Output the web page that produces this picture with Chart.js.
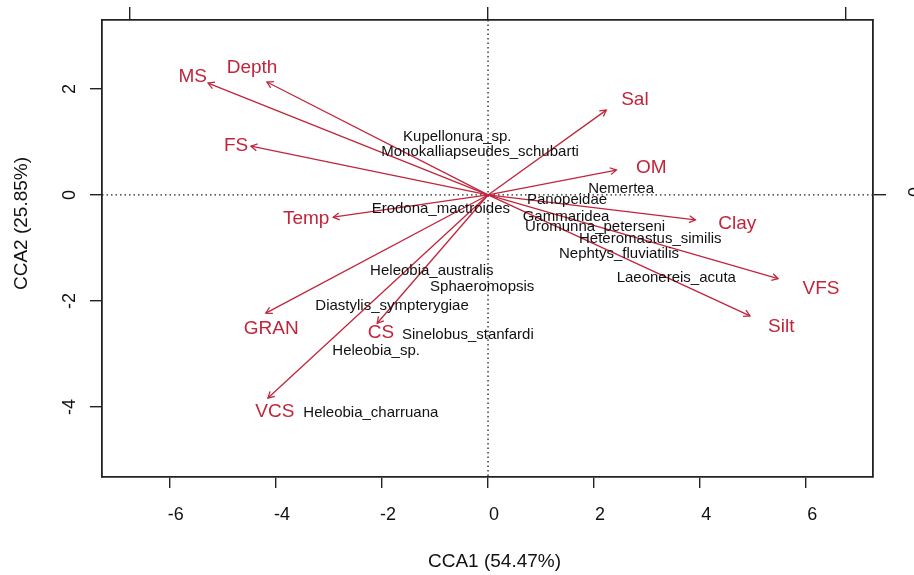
<!DOCTYPE html>
<html>
<head>
<meta charset="utf-8">
<script src="https://cdn.jsdelivr.net/npm/chart.js@4.4.0/dist/chart.umd.min.js"></script>
<style>
html, body { margin: 0; padding: 0; background: #fff; }
</style>
</head>
<body>
<canvas id="cca" width="914" height="575"></canvas>
<script>
// CCA biplot - environmental arrows + species scores

var envNames = ['MS', 'Depth', 'FS', 'Temp', 'GRAN', 'CS', 'VCS', 'Sal', 'OM', 'Clay', 'VFS', 'Silt'];
var envX = [-5.28, -4.17, -4.47, -2.92, -4.19, -2.09, -4.15, 2.23, 2.42, 3.91, 5.47, 4.94];
var envY = [2.11, 2.13, 0.92, -0.42, -2.23, -2.42, -3.83, 1.60, 0.47, -0.47, -1.58, -2.28];
// where the labels of the arrows sit
var envLabX = [-5.57, -4.45, -4.75, -3.43, -4.09, -2.02, -4.02, 2.77, 3.08, 4.70, 6.28, 5.53];
var envLabY = [2.23, 2.40, 0.92, -0.45, -2.53, -2.60, -4.09, 1.79, 0.51, -0.55, -1.77, -2.49];

var spNames = ['Kupellonura_sp.', 'Monokalliapseudes_schubarti', 'Erodona_mactroides', 'Heleobia_australis',
  'Sphaeromopsis', 'Diastylis_sympterygiae', 'Sinelobus_stanfardi', 'Heleobia_sp.', 'Heleobia_charruana',
  'Nemertea', 'Panopeidae', 'Gammaridea', 'Uromunna_peterseni', 'Heteromastus_similis',
  'Nephtys_fluviatilis', 'Laeonereis_acuta'];
var spX = [-0.58, -0.15, -0.89, -1.06, -0.11, -1.81, -0.38, -2.11, -2.21, 2.51, 1.49, 1.47, 2.02, 3.06, 2.47, 3.55];
var spY = [1.09, 0.81, -0.26, -1.43, -1.74, -2.09, -2.64, -2.94, -4.11, 0.11, -0.09, -0.41, -0.61, -0.82, -1.11, -1.56];

var xTicks = [-6, -4, -2, 0, 2, 4, 6];
var yTicks = [-4, -2, 0, 2];
var xTitle = 'CCA1 (54.47%)';
var yTitle = 'CCA2 (25.85%)';

var red = '#c0253b';
var ink = '#111';
var fontFam = '"Liberation Sans", Arial, sans-serif';

var datasets = envNames.map(function (n, i) {
  return {
    label: n,
    data: [{x: 0, y: 0}, {x: envX[i], y: envY[i]}],
    showLine: true,
    borderColor: red,
    borderWidth: 1.3,
    pointRadius: 0
  };
});

var biplotPlugin = {
  id: 'biplot',
  beforeDatasetsDraw: function (chart) {
    var ctx = chart.ctx, a = chart.chartArea;
    var sx = chart.scales.x, sy = chart.scales.y;
    var x0 = sx.getPixelForValue(0), y0 = sy.getPixelForValue(0);
    ctx.save();
    ctx.strokeStyle = '#222';
    ctx.lineWidth = 1.3;
    ctx.setLineDash([1.5, 3]);
    ctx.beginPath();
    ctx.moveTo(x0, a.top); ctx.lineTo(x0, a.bottom);
    ctx.moveTo(a.left, y0); ctx.lineTo(a.right, y0);
    ctx.stroke();
    ctx.restore();
  },
  afterDatasetsDraw: function (chart) {
    var ctx = chart.ctx, a = chart.chartArea;
    var sx = chart.scales.x, sy = chart.scales.y;
    var x0 = sx.getPixelForValue(0), y0 = sy.getPixelForValue(0);
    ctx.save();

    // arrow heads
    ctx.strokeStyle = red;
    ctx.lineWidth = 1.3;
    envNames.forEach(function (n, i) {
      var tx = sx.getPixelForValue(envX[i]), ty = sy.getPixelForValue(envY[i]);
      var ang = Math.atan2(ty - y0, tx - x0);
      var len = 7, spread = Math.PI / 6;
      ctx.beginPath();
      ctx.moveTo(tx - len * Math.cos(ang - spread), ty - len * Math.sin(ang - spread));
      ctx.lineTo(tx, ty);
      ctx.lineTo(tx - len * Math.cos(ang + spread), ty - len * Math.sin(ang + spread));
      ctx.stroke();
    });

    ctx.textAlign = 'center';
    ctx.textBaseline = 'middle';

    // env labels
    ctx.fillStyle = red;
    ctx.font = '19px ' + fontFam;
    envNames.forEach(function (n, i) {
      ctx.fillText(n, sx.getPixelForValue(envLabX[i]), sy.getPixelForValue(envLabY[i]));
    });

    // species
    ctx.fillStyle = ink;
    ctx.font = '15px ' + fontFam;
    spNames.forEach(function (n, i) {
      ctx.fillText(n, sx.getPixelForValue(spX[i]), sy.getPixelForValue(spY[i]));
    });

    // tick labels
    ctx.font = '18px ' + fontFam;
    xTicks.forEach(function (v) {
      ctx.fillText(String(v), sx.getPixelForValue(v) + 6, a.bottom + 38);
    });
    yTicks.forEach(function (v) {
      ctx.save();
      ctx.translate(a.left - 32, sy.getPixelForValue(v));
      ctx.rotate(-Math.PI / 2);
      ctx.fillText(String(v), 0, 0);
      ctx.restore();
    });
    // right axis label (species scale), mostly off the page
    var sy2 = chart.scales.y2;
    ctx.save();
    ctx.translate(a.right + 43, sy2.getPixelForValue(0) - 3);
    ctx.rotate(-Math.PI / 2);
    ctx.fillText('0', 0, 0);
    ctx.restore();

    // axis titles
    ctx.font = '19px ' + fontFam;
    ctx.fillText(xTitle, (a.left + a.right) / 2 + 7, a.bottom + 85);
    ctx.save();
    ctx.translate(22, (a.top + a.bottom) / 2 - 25);
    ctx.rotate(-Math.PI / 2);
    ctx.fillText(yTitle, 0, 0);
    ctx.restore();

    ctx.restore();
  }
};

function axisGrid(len) {
  return {display: true, drawOnChartArea: false, drawTicks: true, tickLength: len, color: '#222', lineWidth: 1.4};
}
var axisBorder = {display: true, color: '#222', width: 1.8};

new Chart(document.getElementById('cca'), {
  type: 'scatter',
  data: {datasets: datasets},
  options: {
    responsive: false,
    animation: false,
    layout: {padding: 0},
    plugins: {legend: {display: false}, tooltip: {enabled: false}},
    scales: {
      x: {
        type: 'linear', position: 'bottom', min: -7.28, max: 7.26,
        ticks: {display: false, stepSize: 2, includeBounds: false},
        grid: axisGrid(11), border: axisBorder,
        afterFit: function (s) { s.height = 98; }
      },
      y: {
        type: 'linear', position: 'left', min: -5.32, max: 3.30,
        ticks: {display: false, stepSize: 2, includeBounds: false},
        grid: axisGrid(12), border: axisBorder,
        afterFit: function (s) { s.width = 102; }
      },
      x2: {
        type: 'linear', position: 'top', min: -1.078, max: 1.075,
        ticks: {display: false, stepSize: 1, includeBounds: false},
        grid: axisGrid(13), border: axisBorder,
        afterFit: function (s) { s.height = 20; }
      },
      y2: {
        type: 'linear', position: 'right', min: -0.788, max: 0.489,
        ticks: {display: false, stepSize: 1, includeBounds: false},
        grid: axisGrid(13), border: axisBorder,
        afterFit: function (s) { s.width = 41; }
      }
    }
  },
  plugins: [biplotPlugin]
});
</script>
</body>
</html>
